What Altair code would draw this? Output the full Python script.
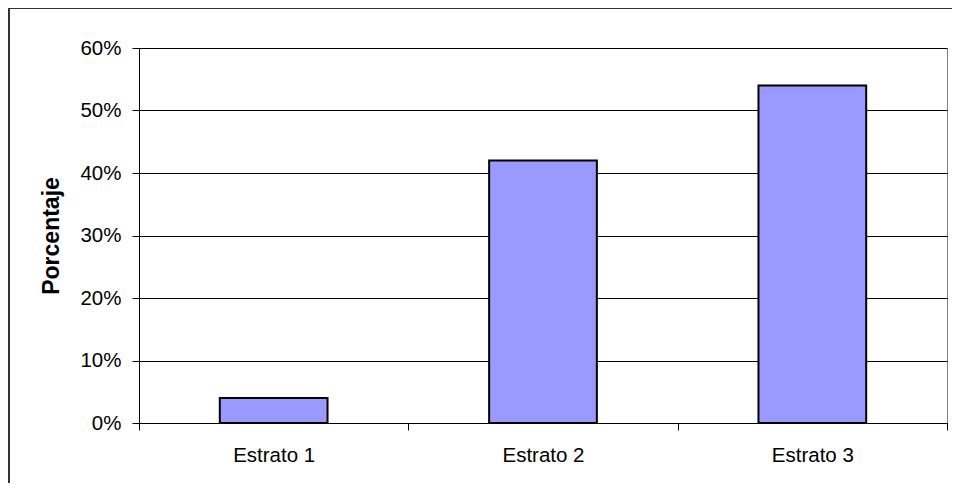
import altair as alt
import pandas as pd

categories = ["Estrato 1", "Estrato 2", "Estrato 3"]
values = [0.04, 0.42, 0.54]
y_ticks = [0, 0.1, 0.2, 0.3, 0.4, 0.5, 0.6]
y_title = "Porcentaje"

df = pd.DataFrame({"Estrato": categories, "Porcentaje": values})

W, H = 808, 375
FONT = "Liberation Sans"

bars = alt.Chart(df).mark_bar(
    color="#9999FF", stroke="black", strokeWidth=2,
    width=alt.RelativeBandSize(0.4)
).encode(
    x=alt.X("Estrato:N", sort=categories,
            scale=alt.Scale(paddingInner=0, paddingOuter=0),
            axis=alt.Axis(title=None, labelAngle=0, tickBand="extent",
                          labelFontSize=20.5, labelFont=FONT, labelColor="black",
                          tickSize=7, tickColor="black", domainColor="black",
                          labelPadding=15, grid=False)),
    y=alt.Y("Porcentaje:Q", scale=alt.Scale(domain=[0, 0.6], nice=False),
            axis=alt.Axis(values=y_ticks, format=".0%", title=y_title,
                          labelFontSize=20.5, labelFont=FONT, labelColor="black",
                          tickSize=7, tickColor="black", domainColor="black",
                          labelPadding=11, grid=True, gridColor="black",
                          gridWidth=1, gridOpacity=1,
                          titleFont=FONT, titleFontSize=23, titleFontWeight="bold",
                          titleColor="black", titleAngle=-90, titleX=-88,
                          titleY=H / 2, titleAlign="center", titleBaseline="middle"))
)

frame = alt.Chart(pd.DataFrame({"a": [0]})).mark_rect(
    fill=None, stroke="#333333", strokeWidth=2, clip=False
).encode(
    x=alt.value(-130), x2=alt.value(900),
    y=alt.value(-40), y2=alt.value(600)
)

chart = alt.layer(frame, bars).properties(
    width=W, height=H,
    autosize=alt.AutoSizeParams(type="none"),
    padding={"left": 131, "top": 40, "right": 5, "bottom": 60},
    background="white"
).configure_view(stroke="#808080", strokeWidth=1)

chart.save("out.html", embed_options={"renderer": "svg", "actions": False})
